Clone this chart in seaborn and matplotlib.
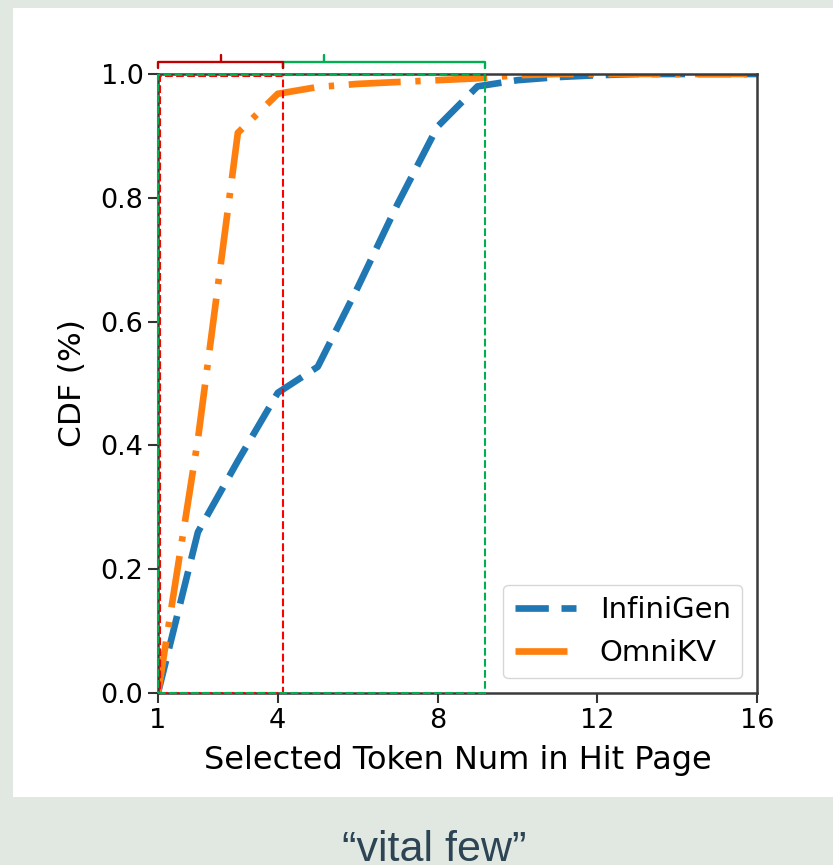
import matplotlib
matplotlib.use("Agg")
import matplotlib.pyplot as plt
from matplotlib.patches import Rectangle
import seaborn as sns
import pandas as pd

# ---- data ----
token_num = [1, 2, 3, 4, 5, 6, 7, 8, 9, 10, 11, 12, 13, 14, 15, 16]
infinigen_cdf = [0.0, 0.26, 0.375, 0.485, 0.527, 0.655, 0.79, 0.915, 0.98, 0.99,
                 0.995, 0.998, 1.0, 1.0, 1.0, 1.0]
omnikv_cdf = [0.0, 0.41, 0.905, 0.968, 0.979, 0.984, 0.987, 0.99, 0.993, 0.998,
              1.0, 1.0, 1.0, 1.0, 1.0, 1.0]
methods = ["InfiniGen", "OmniKV"]
x_ticks = [1, 4, 8, 12, 16]
y_ticks = [0.0, 0.2, 0.4, 0.6, 0.8, 1.0]
x_label = "Selected Token Num in Hit Page"
y_label = "CDF (%)"
caption = "\u201cvital few\u201d"

# highlighted regions (x ranges) and bracket tick positions
red_region = (1.05, 4.13)
green_region = (1.0, 9.2)
red_bracket = (1.0, 4.13, 2.57)
green_bracket = (4.13, 9.2, 5.16)

df = pd.DataFrame({
    "x": token_num * 2,
    "cdf": infinigen_cdf + omnikv_cdf,
    "method": [methods[0]] * len(token_num) + [methods[1]] * len(token_num),
})

sns.set_style("ticks")
plt.rcParams["font.family"] = ["DejaVu Sans"]
plt.rcParams["text.color"] = "black"
plt.rcParams["axes.labelcolor"] = "black"
plt.rcParams["xtick.color"] = "#222222"
plt.rcParams["ytick.color"] = "#222222"

W, H, DPI = 833, 865, 100
fig = plt.figure(figsize=(W / DPI, H / DPI), dpi=DPI)
fig.set_facecolor("#e1e8e1")
panel = Rectangle((13 / W, (H - 797) / H), 1 - 13 / W, (797 - 8) / H,
                  transform=fig.transFigure, facecolor="white",
                  edgecolor="none", zorder=-10)
fig.patches.append(panel)

ax = fig.add_axes([158 / W, 1 - 693 / H, (757 - 158) / W, (693 - 74) / H])
ax.set_zorder(5)
ax.set_facecolor("white")

palette = {"InfiniGen": "#1f77b4", "OmniKV": "#ff7f0e"}
dashes = {"InfiniGen": (5.0, 1.9), "OmniKV": (7.8, 2.2, 0.8, 2.2)}
sns.lineplot(data=df, x="x", y="cdf", hue="method", style="method",
             palette=palette, dashes=dashes, linewidth=4.8, legend=False,
             ax=ax, sort=False, estimator=None)
lines = list(ax.lines[:2])

ax.set_xlim(1, 16)
ax.set_ylim(0, 1.0)
ax.set_xticks(x_ticks)
ax.set_yticks(y_ticks)
ax.set_yticklabels([f"{v:.1f}" for v in y_ticks])
ax.tick_params(axis="both", labelsize=19.5, length=7, width=1.5,
               color="#333333", labelcolor="black", direction="out")
for s in ax.spines.values():
    s.set_color("#3a3a3a")
    s.set_linewidth(1.8)

ax.set_xlabel(x_label, fontsize=23, labelpad=8)
ax.set_ylabel(y_label, fontsize=22.5, labelpad=10)

leg = ax.legend(lines, methods, loc="lower right", fontsize=21,
                handlelength=2.1, frameon=True)

# dashed highlight rectangles
ax.add_patch(Rectangle((red_region[0], 0), red_region[1] - red_region[0], 0.997,
                       fill=False, ls="--", ec="#ff0000", lw=1.5, clip_on=False, zorder=4))
ax.add_patch(Rectangle((green_region[0], 0), green_region[1] - green_region[0], 0.998,
                       fill=False, ls="--", ec="#00b050", lw=1.5, clip_on=False, zorder=4))

# brackets on top
def bracket(x0, x1, xm, color):
    ax.plot([x0, x0, x1, x1], [1.009, 1.020, 1.020, 1.009], color=color, lw=1.7,
            clip_on=False, zorder=5)
    ax.plot([xm, xm], [1.020, 1.031], color=color, lw=1.7, clip_on=False, zorder=5)

bracket(green_bracket[0], green_bracket[1], green_bracket[2], "#00b050")
bracket(red_bracket[0], red_bracket[1], red_bracket[2], "#c00000")

fig.text(434 / W, 4 / H, caption, ha="center", va="baseline", fontsize=31,
         color="#2d4454", family=["Liberation Sans", "DejaVu Sans"])

fig.savefig("out.png", dpi=DPI, facecolor=fig.get_facecolor())
